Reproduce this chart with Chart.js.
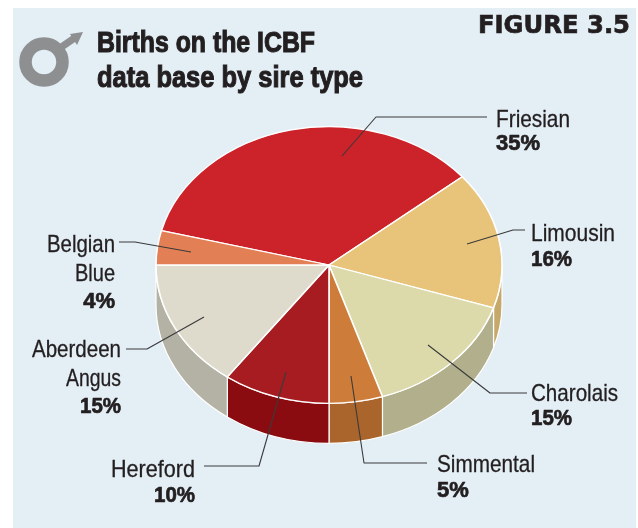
<!DOCTYPE html>
<html><head><meta charset="utf-8">
<style>html,body{margin:0;padding:0;background:#fff}canvas{display:block}</style>
<script src="https://cdn.jsdelivr.net/npm/chart.js@4"></script>
</head><body>
<div style="width:638px;height:528px;position:relative"><canvas id="c" width="638" height="528"></canvas></div>
<script>
const categories = ['Friesian','Limousin','Charolais','Simmental','Hereford','Aberdeen Angus','Belgian Blue'];
const shares = [35,16,15,5,10,15,4];
const topColours = ['#cc2229','#e8c47a','#dcd9aa','#cd7c39','#a61c20','#dedbcd','#e37f55'];
const sideColours = ['#a81a20','#c6a86a','#b2b08c','#a9652b','#8a0c10','#b3b2a5','#b96440'];
const titleLines = ['Births on the ICBF','data base by sire type'];
const figureLabel = 'FIGURE 3.5';

const squash = 0.8, depth = 40;
const NAME = '400 24px "Liberation Sans Narrow","Liberation Sans",sans-serif';
const PCT = '700 22px "Liberation Sans",sans-serif';
const INK = '#231f20';
// text, font kind, anchor, x, baseline, fitted width
const labelText = [
 ['Friesian','n','left',496,127,74],['35%','p','left',496,150,45],
 ['Limousin','n','left',531,241,84],['16%','p','left',531,266,41],
 ['Charolais','n','left',531,401,87],['15%','p','left',531,425,41],
 ['Simmental','n','left',437,472,98],['5%','p','left',437,497,33],
 ['Hereford','n','right',195,477,84],['10%','p','right',195,502,41],
 ['Aberdeen','n','right',121,357,89],['Angus','n','right',121,386,55],['15%','p','right',121,413,41],
 ['Belgian','n','right',115,252,68],['Blue','n','right',115,281,40],['4%','p','right',115,308,33]
];
const leaders = [
 [[342,156],[376,117],[487,117]],
 [[467,244],[513,230],[525,230]],
 [[428,345],[490,393],[527,393]],
 [[351,376],[364,463],[427,463]],
 [[286,372],[259,466],[204,466]],
 [[204,317],[147,349],[126,349]],
 [[191,252],[135,242],[119,242]]
];

const art = {
 id:'art',
 beforeDraw(chart){
  const c = chart.ctx;
  c.save();
  c.fillStyle='#ffffff'; c.fillRect(0,0,638,528);
  c.fillStyle='#e3eef5'; c.fillRect(13,8,623,520);
  // male symbol
  c.strokeStyle='#8e8f91'; c.fillStyle='#8e8f91';
  c.lineWidth=12.5;
  c.beginPath(); c.arc(44,62,18.5,0,Math.PI*2); c.stroke();
  c.lineWidth=7;
  c.beginPath(); c.moveTo(60,48); c.lineTo(76,37); c.stroke();
  c.beginPath(); c.moveTo(83,32); c.lineTo(70,34); c.lineTo(77,45); c.closePath(); c.fill();
  // title
  c.fillStyle=INK; c.strokeStyle=INK; c.lineWidth=1.1; c.textAlign='left'; c.textBaseline='alphabetic';
  c.font='700 30px "Liberation Sans Narrow","Liberation Sans",sans-serif';
  c.fillText(titleLines[0],97,52,218); c.strokeText(titleLines[0],97,52,218);
  c.fillText(titleLines[1],97,87,266); c.strokeText(titleLines[1],97,87,266);
  c.font='700 25px "DejaVu Sans",sans-serif';
  c.lineWidth=0.7;
  c.fillText(figureLabel,478,33,152); c.strokeText(figureLabel,478,33,152);
  c.restore();
 },
 beforeDatasetsDraw(chart){
  const c = chart.ctx, arcs = chart.getDatasetMeta(0).data;
  c.save();
  arcs.forEach((el,i)=>{
   for(let n=-1;n<=1;n++){
    const a=Math.max(el.startAngle+2*Math.PI*n,0), b=Math.min(el.endAngle+2*Math.PI*n,Math.PI);
    if(a<b){
     const ry=el.outerRadius*squash;
     c.beginPath();
     c.ellipse(el.x,el.y+depth,el.outerRadius,ry,0,a,b,false);
     c.ellipse(el.x,el.y,el.outerRadius,ry,0,b,a,true);
     c.closePath();
     c.fillStyle=sideColours[i]; c.fill();
     c.strokeStyle='#ffffff'; c.lineWidth=1.2; c.stroke();
    }
   }
  });
  c.restore();
  const y=arcs[0].y;
  c.save();
  c.translate(0,y); c.scale(1,squash); c.translate(0,-y);
 },
 afterDatasetsDraw(chart){
  chart.ctx.restore();
 },
 afterDraw(chart){
  const c = chart.ctx;
  c.save();
  c.lineWidth=1.1; c.strokeStyle='#3a3a3c'; c.lineJoin='round';
  leaders.forEach(p=>{
   c.beginPath(); p.forEach((q,i)=>i?c.lineTo(q[0],q[1]):c.moveTo(q[0],q[1])); c.stroke();
  });
  c.fillStyle=INK; c.strokeStyle=INK; c.textBaseline='alphabetic';
  labelText.forEach(([t,k,al,x,y,w])=>{
   c.font=k==='n'?NAME:PCT; c.textAlign=al;
   c.lineWidth=k==='p'?0.7:0.3;
   c.fillText(t,x,y,w);
   c.strokeText(t,x,y,w);
  });
  c.restore();
 }
};

new Chart(document.getElementById('c'),{
 type:'pie',
 data:{labels:categories,datasets:[{data:shares,backgroundColor:topColours,borderColor:'#ffffff',borderWidth:1.6}]},
 options:{
  responsive:false,animation:false,
  rotation:-75.6,radius:173,
  layout:{padding:{left:20,top:2}},
  plugins:{legend:{display:false},tooltip:{enabled:false}}
 },
 plugins:[art]
});
</script>
</body></html>
